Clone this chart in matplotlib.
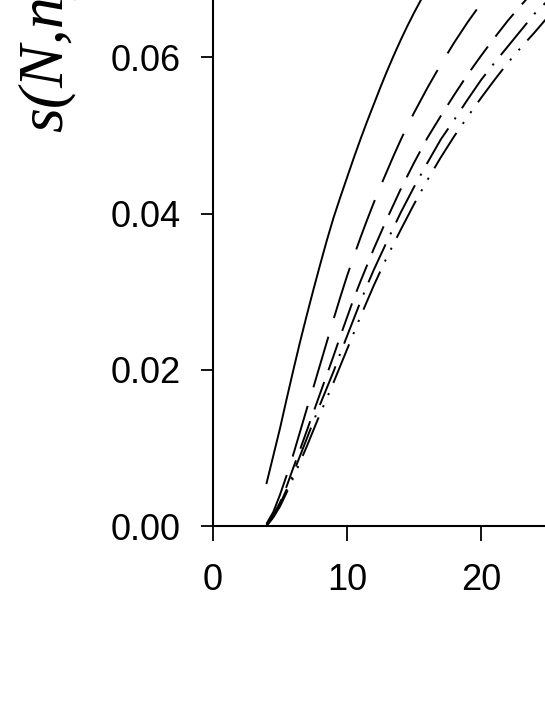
import matplotlib.pyplot as plt

plt.rcParams['lines.scale_dashes'] = False

# s(N,n) curves
n_solid = [4, 4.5, 5, 5.5, 6, 6.5, 7, 7.5, 8, 8.5, 9, 9.5, 10, 10.5, 11,
           11.5, 12, 12.5, 13, 13.5, 14, 14.5, 15, 15.5, 16, 16.5, 17]
s_solid = [0.0055, 0.0090, 0.0125, 0.0163, 0.0200, 0.0236, 0.0270, 0.0303,
           0.0335, 0.0366, 0.0395, 0.0421, 0.0446, 0.0471, 0.0495, 0.0518,
           0.0540, 0.0562, 0.0583, 0.0603, 0.0622, 0.0640, 0.0657, 0.0673,
           0.0689, 0.0704, 0.0718]

n_dash = [4, 4.5, 5, 5.5, 6, 6.5, 7, 7.5, 8, 8.5, 9, 9.5, 10, 10.5, 11,
          11.5, 12, 12.5, 13, 13.5, 14, 14.5, 15, 15.5, 16, 16.5, 17, 17.5,
          18, 18.5, 19, 19.5, 20, 20.5, 21, 21.5, 22]
s_dash = [0.0003, 0.0018, 0.0040, 0.0065, 0.0092, 0.0121, 0.0150, 0.0178,
          0.0207, 0.0236, 0.0265, 0.0293, 0.0320, 0.0345, 0.0369, 0.0392,
          0.0414, 0.0435, 0.0455, 0.0475, 0.0494, 0.0512, 0.0529, 0.0545,
          0.0561, 0.0576, 0.0591, 0.0605, 0.0619, 0.0632, 0.0645, 0.0657,
          0.0669, 0.0680, 0.0691, 0.0702, 0.0712]

n_rest = [4, 4.5, 5, 5.5, 6, 6.5, 7, 7.5, 8, 8.5, 9, 9.5, 10, 10.5, 11,
          11.5, 12, 13, 14, 15, 16, 17, 18, 19, 20, 21, 22, 23, 24, 25, 26]
s_mid = [0.0002, 0.0014, 0.0030, 0.0051, 0.0075, 0.0098, 0.0122, 0.0146,
         0.0170, 0.0194, 0.0218, 0.0243, 0.0267, 0.0291, 0.0313, 0.0334,
         0.0355, 0.0394, 0.0431, 0.0465, 0.0497, 0.0525, 0.0552, 0.0578,
         0.0602, 0.0625, 0.0647, 0.0667, 0.0686, 0.0703, 0.0719]
s_dashdot = [0.0001, 0.0012, 0.0028, 0.0047, 0.0068, 0.0090, 0.0112, 0.0134,
             0.0156, 0.0177, 0.0198, 0.0221, 0.0243, 0.0265, 0.0287, 0.0308,
             0.0328, 0.0365, 0.0401, 0.0434, 0.0465, 0.0495, 0.0520, 0.0546,
             0.0571, 0.0593, 0.0614, 0.0635, 0.0656, 0.0673, 0.0690]
s_dashdotdot = [0.0000, 0.0011, 0.0025, 0.0043, 0.0062, 0.0082, 0.0102,
                0.0123, 0.0144, 0.0164, 0.0184, 0.0205, 0.0226, 0.0247,
                0.0268, 0.0288, 0.0308, 0.0345, 0.0379, 0.0412, 0.0443,
                0.0472, 0.0499, 0.0524, 0.0548, 0.0571, 0.0593, 0.0613,
                0.0632, 0.0652, 0.0670]

fig = plt.figure(figsize=(5.45, 7.05), dpi=100)
ax = fig.add_axes([213 / 545, 179 / 705, 1 - 213 / 545, 526 / 705])

lw = 1.4
ax.plot(n_solid, s_solid, color='black', lw=lw, linestyle='-')
ax.plot(n_dash, s_dash, color='black', lw=lw, linestyle=(0, (38, 14)))
ax.plot(n_rest, s_mid, color='black', lw=lw, linestyle=(0, (21, 9)))
ax.plot(n_rest, s_dashdot, color='black', lw=lw,
        linestyle=(0, (30, 8, 1.5, 8)))
ax.plot(n_rest, s_dashdotdot, color='black', lw=lw,
        linestyle=(0, (30, 8, 1.5, 8, 1.5, 8)))

ax.set_xlim(0, 332 / 13.4)
ax.set_ylim(0, 526 / 7810)
ax.set_xticks([0, 10, 20])
ax.set_yticks([0.00, 0.02, 0.04, 0.06])
ax.set_yticklabels(['0.00', '0.02', '0.04', '0.06'])

for side in ['top', 'right']:
    ax.spines[side].set_visible(False)
for side in ['left', 'bottom']:
    ax.spines[side].set_linewidth(1.5)
ax.tick_params(axis='y', direction='out', length=8.6, width=1.3, pad=14.5,
               labelsize=26, labelfontfamily='Liberation Sans')
ax.tick_params(axis='x', direction='out', length=10.5, width=1.3, pad=16,
               labelsize=26, labelfontfamily='Liberation Sans')

fig.text(62 / 545, 1 - 132 / 705, 's(N,n)', rotation=90,
         rotation_mode='anchor', ha='left', va='baseline',
         family='Liberation Serif', style='italic', fontsize=46)

fig.savefig('out.png', dpi=100)
